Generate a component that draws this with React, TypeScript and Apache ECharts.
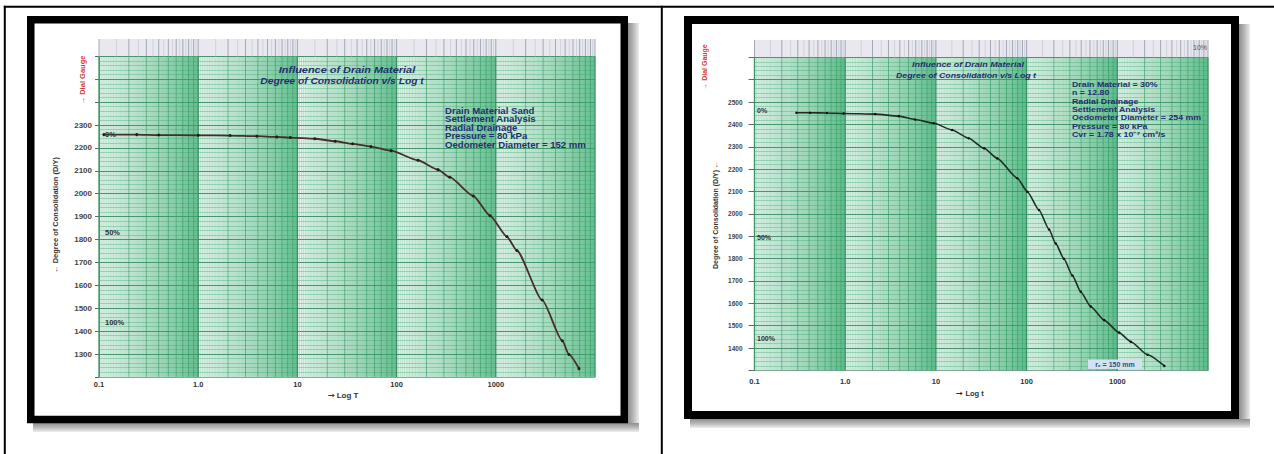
import React, { useEffect, useRef } from 'react';
import * as echarts from 'echarts';

// ---------- data ----------
const xTickValues = [0.1, 1, 10, 100, 1000];
const xTickLabels = ['0.1', '1.0', '10', '100', '1000'];

const leftYTicks = ['1300', '1400', '1500', '1600', '1700', '1800', '1900', '2000', '2100', '2200', '2300'];
const rightYTicks = ['1400', '1500', '1600', '1700', '1800', '1900', '2000', '2100', '2200', '2300', '2400', '2500'];

// Left chart: sand drain, dial gauge reading vs time
const leftTimes = [0.112, 0.24, 0.4, 1.0, 2.1, 3.9, 6.2, 8.5, 15, 24, 36, 55, 88, 164, 261, 343, 593, 875, 1290, 1630, 2930, 4680, 5460, 6900];
const leftValues = [2258, 2258, 2256, 2255, 2254, 2251, 2248, 2245, 2240, 2229, 2218, 2206, 2188, 2146, 2105, 2072, 1990, 1904, 1813, 1752, 1536, 1358, 1298, 1236];

// Right chart: drain material 30%
const rightTimes = [0.29, 0.41, 0.63, 0.96, 2.14, 3.9, 5.9, 9.5, 15.1, 23, 34, 47.5, 79, 102, 137, 177, 209, 258, 320, 395, 509, 715, 1047, 1410, 2157, 3300];
const rightValues = [2452, 2452, 2451, 2449, 2446, 2437, 2422, 2405, 2375, 2338, 2293, 2248, 2159, 2099, 2017, 1930, 1868, 1799, 1724, 1652, 1586, 1525, 1469, 1428, 1370, 1320];

const leftTitle = ['Influence of Drain Material', 'Degree of Consolidation v/s Log t'];
const rightTitle = ['Influence of Drain Material', 'Degree of Consolidation v/s Log t'];
const leftNotes = ['Drain Material Sand', 'Settlement Analysis', 'Radial Drainage', 'Pressure = 80 kPa', 'Oedometer Diameter = 152 mm'];
const rightNotes = ['Drain Material = 30%', 'n = 12.80', 'Radial Drainage', 'Settlement Analysis', 'Oedometer Diameter = 254 mm', 'Pressure = 80 kPa', 'Cvr = 1.78 x 10\u207B\u2077 cm\u00B2/s'];
const percentLabels = ['0%', '50%', '100%'];

const FONT = '"Liberation Sans", Arial, sans-serif';

// log-paper rulings (graph paper, not data)
function buildPaper(): number[][] {
  const out: number[][] = [];
  for (let d = -1; d <= 3; d++) {
    const base = Math.pow(10, d);
    for (let i = 20; i < 200; i++) {
      const lvl = i === 20 ? 2 : i % 20 === 0 ? 1 : 0;
      out.push([Number(((i / 20) * base).toPrecision(6)), lvl, i]);
    }
  }
  out.push([10000, 2, 20]);
  return out;
}
const paper = buildPaper();
const stripLines = paper.filter((p) => p[1] >= 1 || p[2] % 10 === 0);

function xLabelFmt(v: number) {
  const idx = xTickValues.findIndex((t) => Math.abs(Math.log10(t) - Math.log10(v)) < 1e-6);
  return idx >= 0 ? xTickLabels[idx] : '';
}

function paperSeries(axisIdx: number, yMin: number, yMax: number) {
  return {
    type: 'custom',
    xAxisIndex: axisIdx,
    yAxisIndex: axisIdx,
    silent: true,
    z: 1,
    data: paper,
    renderItem: (_p: any, api: any) => {
      const x = api.value(0);
      const lvl = api.value(1);
      const a = api.coord([x, yMin]);
      const b = api.coord([x, yMax]);
      const style =
        lvl === 2
          ? { stroke: '#3a8f64', lineWidth: 1.3 }
          : lvl === 1
          ? { stroke: 'rgba(45,150,98,0.7)', lineWidth: 1 }
          : { stroke: 'rgba(60,175,115,0.25)', lineWidth: 1 };
      return { type: 'line', shape: { x1: a[0], y1: a[1], x2: b[0], y2: b[1] }, style };
    },
  };
}

function stripSeries(axisIdx: number) {
  return {
    type: 'custom',
    xAxisIndex: axisIdx,
    yAxisIndex: axisIdx,
    silent: true,
    z: 1,
    data: stripLines,
    renderItem: (_p: any, api: any) => {
      const x = api.value(0);
      const lvl = api.value(1);
      const a = api.coord([x, 0]);
      const b = api.coord([x, 1]);
      return {
        type: 'line',
        shape: { x1: a[0], y1: a[1], x2: b[0], y2: b[1] },
        style: { stroke: lvl >= 1 ? '#a2a8ba' : '#d0d3dc', lineWidth: 1 },
      };
    },
  };
}

function mainX(gridIndex: number, margin: number) {
  return {
    type: 'log',
    gridIndex,
    logBase: 10,
    min: 0.1,
    max: 10000,
    axisLine: { show: true, lineStyle: { color: '#8aa89a', width: 1 } },
    axisTick: { show: false },
    splitLine: { show: false },
    axisLabel: { formatter: xLabelFmt, color: '#333', fontSize: 7.5, fontWeight: 'bold', margin, fontFamily: FONT },
  };
}
function stripX(gridIndex: number) {
  return { type: 'log', gridIndex, logBase: 10, min: 0.1, max: 10000, show: false };
}
function mainY(gridIndex: number, min: number, max: number, ticks: string[], fontSize: number, margin: number, tickLen: number) {
  return {
    type: 'value',
    gridIndex,
    min,
    max,
    interval: 100,
    axisLine: { show: true, lineStyle: { color: '#8a8a8a', width: 1 } },
    axisTick: { show: true, length: tickLen, lineStyle: { color: '#666' } },
    minorTick: { show: false, splitNumber: 5 },
    axisLabel: {
      formatter: (v: number) => (ticks.includes(String(v)) ? String(v) : ''),
      color: '#444',
      fontSize,
      fontWeight: 'bold',
      margin,
      fontFamily: FONT,
    },
    splitLine: { show: true, lineStyle: { color: '#4f8f6e', width: 1 } },
    minorSplitLine: { show: true, lineStyle: { color: 'rgba(60,160,108,0.45)', width: 0.8 } },
  };
}
function stripY(gridIndex: number) {
  return { type: 'value', gridIndex, min: 0, max: 1, show: false };
}

function txt(x: number, y: number, text: string, font: string, fill: string, align = 'left', rotation = 0, scaleX = 1) {
  return {
    type: 'text',
    x,
    y,
    rotation,
    scaleX,
    z: 100,
    silent: true,
    style: { text, x: 0, y: 0, font, fill, align, verticalAlign: 'middle', textAlign: align, textVerticalAlign: 'middle' },
  };
}

function shadow(x: number, y: number, w: number, h: number, horizontal: boolean) {
  return {
    type: 'rect',
    z: 90,
    silent: true,
    shape: { x, y, width: w, height: h },
    style: {
      fill: new echarts.graphic.LinearGradient(0, 0, horizontal ? 1 : 0, horizontal ? 0 : 1, [
        { offset: 0, color: '#8e8e8e' },
        { offset: 0.5, color: '#b9b9b9' },
        { offset: 1, color: '#eeeeee' },
      ]),
    },
  };
}

export default function App() {
  const ref = useRef<HTMLDivElement>(null);
  useEffect(() => {
    if (!ref.current) return;
    const chart = echarts.init(ref.current, undefined, { renderer: 'svg' });

    const graphics: any[] = [];
    const tline = (x1: number, y1: number, x2: number, y2: number) => ({
      type: 'line', z: 100, silent: true, shape: { x1, y1, x2, y2 }, style: { stroke: '#000', lineWidth: 2 },
    });
    graphics.push(tline(3.8, 6.8, 1274, 6.8), tline(4.8, 5.8, 4.8, 454), tline(661.8, 5.8, 661.8, 454));
    graphics.push(shadow(628, 23, 11, 409, true), shadow(33, 423, 606, 9, false));
    graphics.push(shadow(1239, 24, 11, 404, true), shadow(690, 419, 560, 9, false));
    graphics.push({ type: 'rect', z: 95, silent: true, shape: { x: 30.75, y: 19.75, width: 593.5, height: 399.8 }, style: { fill: 'none', stroke: '#000', lineWidth: 7.5 } });
    graphics.push({ type: 'rect', z: 95, silent: true, shape: { x: 688, y: 20, width: 547, height: 395 }, style: { fill: 'none', stroke: '#000', lineWidth: 8 } });

    const navy = '#22306e';
    graphics.push(txt(347, 70, leftTitle[0], `italic bold 9.5px ${FONT}`, navy, 'center', 0, 1.15));
    graphics.push(txt(342, 80.5, leftTitle[1], `italic bold 9.5px ${FONT}`, navy, 'center', 0, 1.08));
    leftNotes.forEach((n, i) => graphics.push(txt(445, 111 + i * 8.5, n, `bold 8.5px ${FONT}`, navy, 'left', 0, 1.13)));
    graphics.push(txt(105, 134, percentLabels[0], `bold 7.5px ${FONT}`, '#333'));
    graphics.push(txt(105, 232, percentLabels[1], `bold 7.5px ${FONT}`, '#333'));
    graphics.push(txt(105, 322, percentLabels[2], `bold 7.5px ${FONT}`, '#333'));
    graphics.push(txt(55, 215, '\u2190 Degree of Consolidation (D/Y)', `bold 7.5px ${FONT}`, '#333', 'center', Math.PI / 2));
    graphics.push(txt(82, 80, '\u2192 Dial Gauge', `bold 7.5px ${FONT}`, '#d43c3c', 'center', Math.PI / 2));
    graphics.push(txt(343, 395, '\u279E Log T', `bold 8px ${FONT}`, '#333', 'center'));

    graphics.push(txt(968, 64, rightTitle[0], `italic bold 8px ${FONT}`, navy, 'center', 0, 1.12));
    graphics.push(txt(966, 75, rightTitle[1], `italic bold 8px ${FONT}`, navy, 'center', 0, 1.1));
    rightNotes.forEach((n, i) => graphics.push(txt(1072, 84 + i * 8.4, n, `bold 8px ${FONT}`, navy, 'left', 0, 1.1)));
    graphics.push(txt(757, 110, percentLabels[0], `bold 7px ${FONT}`, '#333'));
    graphics.push(txt(757, 237, percentLabels[1], `bold 7px ${FONT}`, '#333'));
    graphics.push(txt(757, 338, percentLabels[2], `bold 7px ${FONT}`, '#333'));
    graphics.push(txt(715, 215, 'Degree of Consolidation (D/Y) \u2190', `bold 7px ${FONT}`, '#333', 'center', Math.PI / 2));
    graphics.push(txt(704, 67, '\u2192 Dial Gauge', `bold 7px ${FONT}`, '#d43c3c', 'center', Math.PI / 2));
    graphics.push(txt(970, 393, '\u279E Log t', `bold 7.5px ${FONT}`, '#333', 'center'));
    graphics.push(txt(1200, 47, '10%', `7px ${FONT}`, '#555', 'center'));
    graphics.push({ type: 'rect', z: 99, silent: true, shape: { x: 1088, y: 359.5, width: 54, height: 9.5 }, style: { fill: '#d3e2ee' } });
    graphics.push(txt(1115, 364.5, 'r\u2091 = 150 mm', `bold 7px ${FONT}`, '#35507c', 'center'));

    const option: any = {
      animation: false,
      backgroundColor: '#ffffff',
      textStyle: { fontFamily: FONT },
      grid: [
        { left: 99, top: 56.3, width: 496, height: 320.6, show: true, backgroundColor: '#e4f4eb', borderWidth: 0 },
        { left: 99, top: 39, width: 496, height: 17.3, show: true, backgroundColor: '#e8e8ee', borderWidth: 0 },
        { left: 754.5, top: 57.3, width: 453.5, height: 313.1, show: true, backgroundColor: '#e4f4eb', borderWidth: 0 },
        { left: 754.5, top: 40, width: 453.5, height: 17.3, show: true, backgroundColor: '#e8e8ee', borderWidth: 0 },
      ],
      xAxis: [mainX(0, 4), stripX(1), mainX(2, 7), stripX(3)],
      yAxis: [
        mainY(0, 1200, 2600, leftYTicks, 8, 7, 4),
        stripY(1),
        mainY(2, 1300, 2700, rightYTicks, 6.5, 12, 6),
        stripY(3),
      ],
      series: [
        paperSeries(0, 1200, 2600),
        stripSeries(1),
        {
          type: 'line',
          xAxisIndex: 0,
          yAxisIndex: 0,
          z: 5,
          data: leftTimes.map((t, i) => [t, leftValues[i]]),
          smooth: 0.2,
          smoothMonotone: 'x',
          symbol: 'circle',
          symbolSize: 3,
          showSymbol: true,
          lineStyle: { color: '#4a2c2c', width: 1.8 },
          itemStyle: { color: '#1e1e1e' },
        },
        paperSeries(2, 1300, 2700),
        stripSeries(3),
        {
          type: 'line',
          xAxisIndex: 2,
          yAxisIndex: 2,
          z: 5,
          data: rightTimes.map((t, i) => [t, rightValues[i]]),
          smooth: 0.2,
          smoothMonotone: 'x',
          symbol: 'circle',
          symbolSize: 2.5,
          showSymbol: true,
          lineStyle: { color: '#1f2d25', width: 1.6 },
          itemStyle: { color: '#111' },
        },
      ],
      graphic: graphics,
    };
    chart.setOption(option);
    return () => chart.dispose();
  }, []);
  return <div ref={ref} style={{ position: 'absolute', left: 0, top: 0, width: 1274, height: 454 }} />;
}
